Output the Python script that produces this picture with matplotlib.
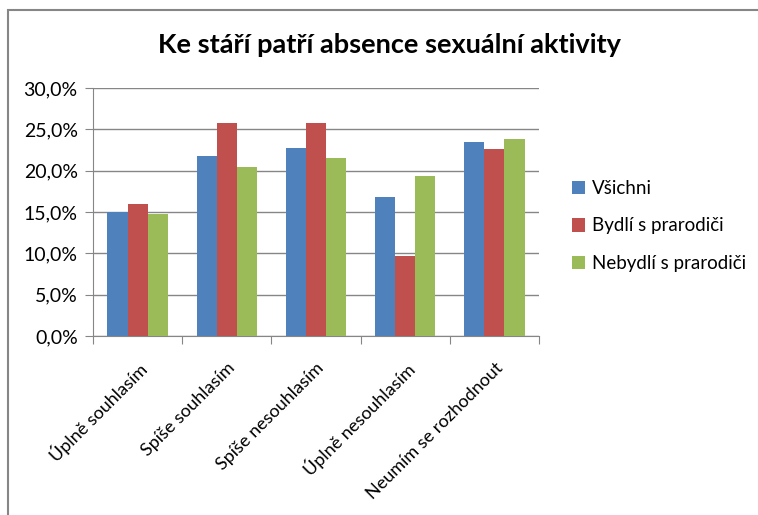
import numpy as np
import matplotlib.pyplot as plt
from matplotlib.patches import Rectangle
from matplotlib.ticker import FuncFormatter
from matplotlib.transforms import ScaledTranslation

plt.rcParams['font.family'] = ['Lato', 'DejaVu Sans']

# Data (percent)
categories = ['Úplně souhlasím', 'Spíše souhlasím', 'Spíše nesouhlasím',
              'Úplně nesouhlasím', 'Neumím se rozhodnout']
vsichni = [15.0, 21.8, 22.7, 16.8, 23.5]
bydli = [16.0, 25.8, 25.8, 9.7, 22.6]
nebydli = [14.8, 20.4, 21.5, 19.3, 23.8]
series_names = ['Všichni', 'Bydlí s prarodiči', 'Nebydlí s prarodiči']
colors = ['#4F81BD', '#C0504D', '#9BBB59']

fig = plt.figure(figsize=(7.58, 5.15), dpi=100)
ax = fig.add_axes([93/758, 1-336/515, (539-93)/758, (336-88)/515])

# outer chart border (only top and left visible)
fig.patches.append(Rectangle((8/758, -0.1), 1.2, 1-10/515+0.1, transform=fig.transFigure,
                             fill=False, edgecolor='#868686', linewidth=1.5))

x = np.arange(len(categories))
w = 0.225
for i, (vals, name) in enumerate(zip([vsichni, bydli, nebydli], series_names)):
    ax.bar(x + (i-1)*w, vals, w, color=colors[i], label=name, zorder=3)

ax.set_xlim(-0.5, len(categories)-0.5)
ax.set_ylim(0, 30)
ax.set_yticks(np.arange(0, 31, 5))
ax.yaxis.set_major_formatter(FuncFormatter(lambda v, p: ('%.1f%%' % v).replace('.', ',')))
ax.grid(axis='y', color='#868686', linewidth=1, zorder=0)
ax.set_xticks(np.arange(len(categories)+1) - 0.5)
ax.set_xticklabels([])
ax.set_xticks(x, minor=True)
ax.set_xticklabels(categories, minor=True, rotation=45, ha='right',
                   rotation_mode='anchor', fontsize=13)
shift = ScaledTranslation(6/100, 0, fig.dpi_scale_trans)
for lab in ax.get_xticklabels(minor=True):
    lab.set_transform(lab.get_transform() + shift)
ax.tick_params(axis='x', which='minor', length=0, pad=17)
ax.tick_params(axis='x', which='major', length=6, color='#868686')
ax.tick_params(axis='y', length=6, color='#868686', labelsize=14, pad=5)
for s in ['top', 'right']:
    ax.spines[s].set_visible(False)
for s in ['left', 'bottom']:
    ax.spines[s].set_color('#868686')

fig.text(389/758, 1-45/515, 'Ke stáří patří absence sexuální aktivity',
         ha='center', va='center', fontsize=19.5, fontweight='bold')

fig.legend(loc='center left', bbox_to_anchor=(555/758, 1-226/515), frameon=False,
           fontsize=13.5, handlelength=0.7, handleheight=0.7, handletextpad=0.35,
           labelspacing=1.1)

fig.savefig('out.png', dpi=100)
